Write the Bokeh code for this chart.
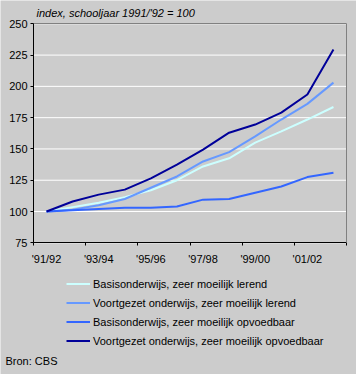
from bokeh.plotting import figure
from bokeh.models import FixedTicker, Legend, LegendItem, Label, LinearAxis, Range1d
from bokeh.embed import file_html
from bokeh.resources import INLINE

years = ["'91/92", "'92/93", "'93/94", "'94/95", "'95/96", "'96/97",
         "'97/98", "'98/99", "'99/00", "'00/01", "'01/02", "'02/03"]
basis_lerend = [100, 103.5, 107, 111.5, 117, 125, 136, 142.5, 155, 164, 173.5, 183.5]
vo_lerend = [100, 101.5, 105, 110, 119, 128, 140, 147.5, 160, 173.5, 186, 203]
basis_opv = [100, 101, 102, 103, 103, 104, 109.5, 110, 115, 120, 127.5, 131]
vo_opv = [100, 108, 113.5, 117.5, 126.5, 137.5, 149.5, 163, 169.5, 179, 193.5, 229.5]
series_names = ["Basisonderwijs, zeer moeilijk lerend",
                "Voortgezet onderwijs, zeer moeilijk lerend",
                "Basisonderwijs, zeer moeilijk opvoedbaar",
                "Voortgezet onderwijs, zeer moeilijk opvoedbaar"]
colors = ["#CCFFFF", "#6699FF", "#3366FF", "#000099"]
y_ticks = [75, 100, 125, 150, 175, 200, 225, 250]
title_text = "index, schooljaar 1991/'92 = 100"
source_text = "Bron: CBS"

FONT = "Liberation Sans"
BG = "#cccccc"
W, H = 356, 374
# plot-area placement on the canvas (pixels)
PL, PR, PT, PB = 33, 346, 23.3, 242.3

xs = list(range(len(years)))
x_lo, x_hi = -0.5, len(years) - 0.5
y_lo, y_hi = y_ticks[0], y_ticks[-1]
xpx = (PR - PL) / (x_hi - x_lo)
ypx = (PB - PT) / (y_hi - y_lo)
x_range = Range1d(x_lo - PL / xpx, x_hi + (W - PR) / xpx)
y_range = Range1d(y_lo - (H - PB) / ypx, y_hi + PT / ypx)

p = figure(width=W, height=H, min_border=0,
           x_range=x_range, y_range=y_range,
           x_axis_location=None, y_axis_location=None,
           output_backend="svg", toolbar_location=None,
           background_fill_color=BG, border_fill_color=BG)
p.outline_line_color = None
p.grid.visible = False

# horizontal gridlines inside the plot area
p.segment(x0=x_lo, x1=x_hi, y0=y_ticks, y1=y_ticks, line_color="white", line_width=1)

renderers = []
for data, c in zip([basis_lerend, vo_lerend, basis_opv, vo_opv], colors):
    r = p.line(xs, data, line_color=c, line_width=2)
    renderers.append(r)

# x axis
label_idx = xs[::2]
xaxis = LinearAxis(fixed_location=y_lo, bounds=(x_lo, x_hi),
                   ticker=FixedTicker(ticks=label_idx,
                                      minor_ticks=[i - 0.5 for i in range(0, len(years) + 1, 2)]),
                   major_label_overrides={i: years[i] for i in label_idx},
                   major_tick_out=0, major_tick_in=0,
                   minor_tick_out=3, minor_tick_in=0,
                   major_label_standoff=7)
# y axis
yaxis = LinearAxis(fixed_location=x_lo, bounds=(y_lo, y_hi),
                   ticker=FixedTicker(ticks=y_ticks),
                   major_tick_out=3, major_tick_in=0,
                   minor_tick_line_color=None,
                   major_label_standoff=3)
for ax in (xaxis, yaxis):
    ax.axis_line_color = "black"
    ax.major_tick_line_color = "black"
    ax.minor_tick_line_color = "black" if ax is xaxis else None
    ax.major_label_text_font = FONT
    ax.major_label_text_font_size = "11px"
    ax.major_label_text_color = "black"
p.add_layout(xaxis, "below")
p.add_layout(yaxis, "left")

# plot-area border at top and right
top_border = LinearAxis(fixed_location=y_hi, bounds=(x_lo, x_hi), ticker=FixedTicker(ticks=[]),
                        axis_line_color="#808080", major_tick_line_color=None,
                        minor_tick_line_color=None, major_label_text_alpha=0)
right_border = LinearAxis(fixed_location=x_hi, bounds=(y_lo, y_hi), ticker=FixedTicker(ticks=[]),
                          axis_line_color="#808080", major_tick_line_color=None,
                          minor_tick_line_color=None, major_label_text_alpha=0)
p.add_layout(top_border, "above")
p.add_layout(right_border, "right")

legend = Legend(items=[LegendItem(label=n, renderers=[r]) for n, r in zip(series_names, renderers)],
                location=(66, H - 348.3), orientation="vertical",
                padding=0, margin=0, spacing=4,
                glyph_width=24, glyph_height=15, label_height=15, label_standoff=3,
                label_text_font=FONT, label_text_font_size="11px", label_text_color="black",
                border_line_alpha=0, background_fill_alpha=0)
p.add_layout(legend, "center")

p.add_layout(Label(x=36, y=H - 12.7, x_units="screen", y_units="screen",
                   text=title_text, text_font=FONT,
                   text_font_size="11px", text_font_style="italic", text_baseline="middle",
                   text_color="black"))
p.add_layout(Label(x=5, y=H - 360.7, x_units="screen", y_units="screen",
                   text=source_text, text_font=FONT, text_font_size="11px",
                   text_baseline="middle", text_color="black"))

open("out.html", "w").write(file_html(p, INLINE))
